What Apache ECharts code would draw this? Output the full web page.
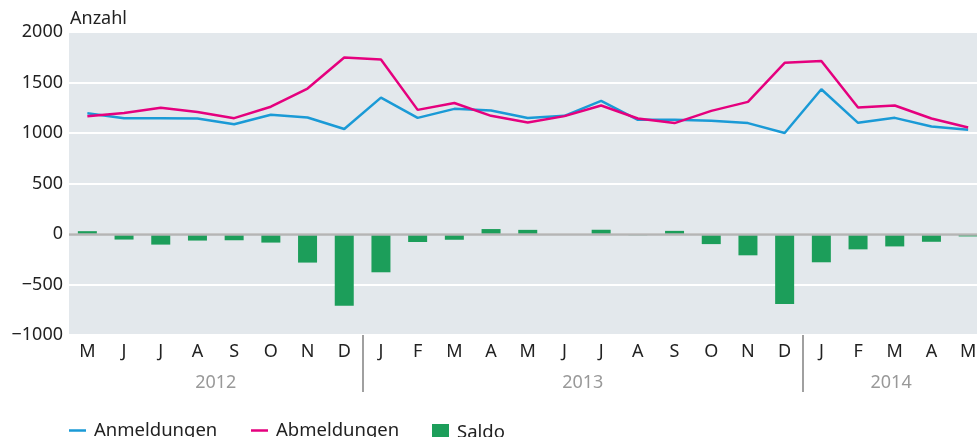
<!DOCTYPE html>
<html>
<head>
<meta charset="utf-8">
<script src="https://cdn.jsdelivr.net/npm/echarts@6/dist/echarts.min.js"></script>
<style>
html,body{margin:0;padding:0;background:#fff;}
#chart{width:977px;height:437px;}
</style>
</head>
<body>
<div id="chart"></div>
<script>
const months = ['M','J','J','A','S','O','N','D','J','F','M','A','M','J','J','A','S','O','N','D','J','F','M','A','M'];
const years = ['2012','2013','2014'];
const yearCenters = [4, 14, 22.4];
const yearDividers = [8, 20];
const anmeldungen = [1195,1147,1147,1143,1087,1180,1153,1040,1350,1150,1239,1222,1148,1170,1318,1131,1131,1121,1098,1000,1433,1101,1150,1065,1032];
const abmeldungen = [1167,1197,1250,1207,1147,1260,1440,1747,1728,1229,1297,1170,1104,1167,1272,1144,1098,1219,1308,1695,1712,1252,1272,1144,1055];
const saldo = [28,-55,-105,-65,-62,-85,-283,-710,-379,-79,-57,49,41,0,42,-12,31,-100,-211,-694,-280,-152,-123,-77,-24];

const FONT = 'Noto Sans';
const chart = echarts.init(document.getElementById('chart'), null, {renderer:'canvas'});
const lineIcon = 'path://M0,0H17V2.5H0Z';
const legendText = {fontSize:18.5, color:'#222', fontFamily:FONT, padding:[0,0,0,3]};
chart.setOption({
  animation:false,
  textStyle:{fontFamily:FONT},
  grid:{left:69, top:32, width:917.5, height:303, show:true, backgroundColor:'#e3e8ec', borderWidth:0,
        containLabel:false, outerBoundsMode:'none'},
  legend:[
    {data:[{name:'Anmeldungen', icon:lineIcon}], left:69, top:421, padding:0, itemWidth:17, itemHeight:17, textStyle:legendText},
    {data:[{name:'Abmeldungen', icon:lineIcon}], left:251, top:421, padding:0, itemWidth:17, itemHeight:17, textStyle:legendText},
    {data:[{name:'Saldo', icon:'rect'}], left:432, top:423, padding:0, itemWidth:17, itemHeight:17, textStyle:legendText}
  ],
  xAxis:[
    {type:'category', data:months, boundaryGap:true,
     axisLine:{show:false}, axisTick:{show:false},
     axisLabel:{interval:0, margin:8, fontSize:18, color:'#222', fontFamily:FONT}},
    {type:'value', min:0, max:25, position:'bottom',
     axisLine:{show:false}, splitLine:{show:false},
     axisTick:{show:true, customValues:yearDividers, length:57, lineStyle:{color:'#a0a0a0', width:2}},
     axisLabel:{customValues:yearCenters, margin:39, fontSize:18, color:'#999', fontFamily:FONT,
       formatter:function(v){ for(let i=0;i<yearDividers.length;i++){ if(v<yearDividers[i]) return years[i]; } return years[years.length-1]; }}}
  ],
  yAxis:{type:'value', min:-1000, max:2000, interval:500,
    name:'Anzahl', nameLocation:'end', nameGap:4,
    nameTextStyle:{align:'left', fontSize:18, color:'#222', fontFamily:FONT, padding:[0,0,0,1]},
    axisLine:{show:false}, axisTick:{show:false},
    splitLine:{lineStyle:{color:'#ffffff', width:2}},
    axisLabel:{margin:6, fontSize:18, color:'#222', fontFamily:FONT,
      formatter:function(v){ return String(v).replace('-', '\u2212'); }}},
  series:[
    {name:'Saldo', type:'bar', data:saldo, barWidth:19, itemStyle:{color:'#1c9e5a'}, z:2,
     markLine:{silent:true, symbol:'none', label:{show:false}, z:5,
       lineStyle:{color:'#b5b5b5', width:2.5, type:'solid'}, data:[{yAxis:0}]}},
    {name:'Anmeldungen', type:'line', data:anmeldungen, showSymbol:false, symbol:'none',
     lineStyle:{color:'#1a9ad6', width:2.5}, itemStyle:{color:'#1a9ad6'}, z:3},
    {name:'Abmeldungen', type:'line', data:abmeldungen, showSymbol:false, symbol:'none',
     lineStyle:{color:'#e5007e', width:2.5}, itemStyle:{color:'#e5007e'}, z:3}
  ]
});
</script>
</body>
</html>
